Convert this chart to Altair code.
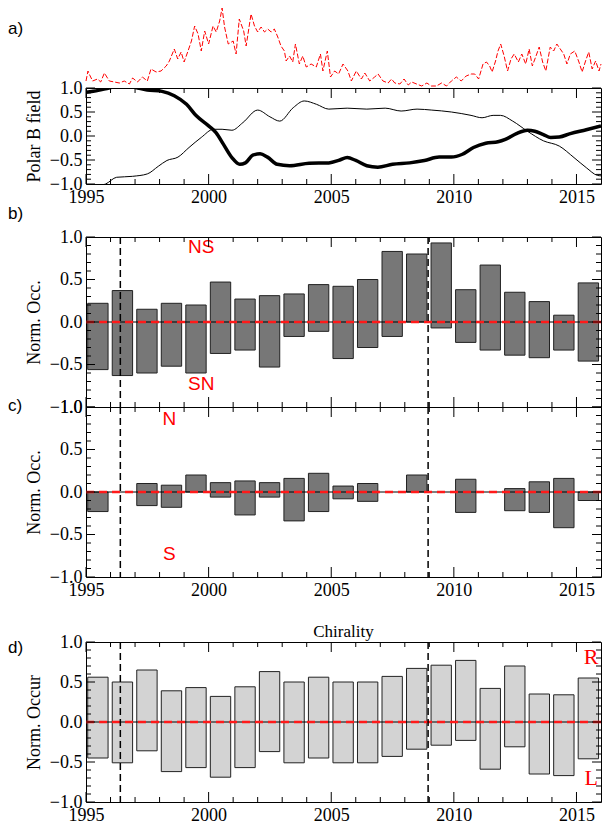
import altair as alt
import pandas as pd

# ---------------- data ----------------
ssn_year = [1995.00, 1995.08, 1995.15, 1995.27, 1995.47, 1995.60, 1995.75, 1995.95, 1996.16, 1996.36,
            1996.56, 1996.77, 1996.90, 1997.10, 1997.30, 1997.50, 1997.65, 1997.86, 1998.06, 1998.27,
            1998.40, 1998.60, 1998.74, 1998.88, 1999.00, 1999.16, 1999.30, 1999.43, 1999.57, 1999.70,
            1999.84, 2000.00, 2000.18, 2000.31, 2000.45, 2000.55, 2000.65, 2000.80, 2001.00, 2001.12,
            2001.25, 2001.43, 2001.53, 2001.73, 2001.87, 2002.00, 2002.14, 2002.28, 2002.41, 2002.55,
            2002.68, 2002.82, 2002.95, 2003.09, 2003.16, 2003.30, 2003.43, 2003.54, 2003.70, 2003.84,
            2003.98, 2004.18, 2004.39, 2004.56, 2004.66, 2004.84, 2004.97, 2005.14, 2005.30, 2005.48,
            2005.68, 2005.82, 2006.02, 2006.23, 2006.37, 2006.57, 2006.77, 2006.91, 2007.11, 2007.32,
            2007.46, 2007.59, 2007.80, 2007.97, 2008.14, 2008.28, 2008.48, 2008.69, 2008.90, 2009.08,
            2009.29, 2009.50, 2009.70, 2009.90, 2010.10, 2010.30, 2010.50, 2010.71, 2010.85, 2011.01,
            2011.19, 2011.33, 2011.46, 2011.56, 2011.70, 2011.80, 2011.91, 2012.05, 2012.19, 2012.33,
            2012.46, 2012.63, 2012.77, 2012.93, 2013.07, 2013.20, 2013.38, 2013.48, 2013.62, 2013.75,
            2013.93, 2014.07, 2014.20, 2014.34, 2014.48, 2014.61, 2014.75, 2014.93, 2015.10, 2015.23,
            2015.37, 2015.50, 2015.64, 2015.78, 2015.92, 2016.00]
ssn_val = [7, 17, 13, 7, 9, 6, 15, 7, 6, 5,
           7, 4, 10, 6, 11, 7, 19, 16, 17, 22,
           27, 39, 29, 36, 26, 37, 47, 62, 54, 37,
           57, 44, 62, 56, 67, 80, 61, 44, 47, 34,
           69, 57, 42, 74, 62, 56, 61, 56, 59, 56,
           59, 51, 42, 37, 27, 32, 26, 44, 24, 32,
           21, 24, 21, 34, 17, 37, 11, 17, 14, 24,
           17, 7, 17, 9, 15, 7, 11, 14, 7, 5,
           9, 5, 4, 9, 3, 6, 4, 2, 5, 2,
           2, 5, 2, 7, 11, 7, 12, 14, 14, 9,
           24, 26, 22, 16, 27, 37, 44, 32, 17, 29,
           34, 26, 34, 24, 39, 22, 34, 41, 26, 17,
           41, 37, 44, 39, 34, 24, 34, 37, 26, 16,
           27, 36, 19, 27, 17, 24]

thick_year = [1995.0, 1995.5, 1995.94, 1996.5, 1997.1, 1997.5, 1998.1, 1998.6, 1999.1, 1999.5,
              2000.0, 2000.3, 2000.6, 2000.95, 2001.27, 2001.5, 2001.8, 2002.1, 2002.4, 2002.8,
              2003.3, 2004.1, 2004.9, 2005.35, 2005.65, 2006.0, 2006.45, 2006.9, 2007.5, 2008.2,
              2008.8, 2009.4, 2009.9, 2010.35, 2010.8, 2011.3, 2011.8, 2012.1, 2012.55, 2013.0,
              2013.3, 2013.65, 2013.95, 2014.3, 2014.75, 2015.4, 2016.0]
thick_val = [0.91, 0.95, 1.0, 1.05, 1.0, 0.96, 0.93, 0.84, 0.66, 0.42,
             0.21, 0.07, -0.17, -0.45, -0.59, -0.56, -0.40, -0.37, -0.44, -0.59,
             -0.62, -0.57, -0.56, -0.50, -0.45, -0.51, -0.62, -0.65, -0.59, -0.56,
             -0.51, -0.44, -0.44, -0.38, -0.24, -0.15, -0.12, -0.07, 0.05, 0.12,
             0.10, 0.03, -0.03, -0.02, 0.05, 0.13, 0.21]

thin_year = [1995.0, 1995.8, 1996.25, 1996.9, 1997.5, 1997.95, 1998.3, 1998.75, 1999.2, 1999.7,
             2000.2, 2000.55, 2000.95, 2001.4, 2002.0, 2002.5, 2002.9, 2003.45, 2003.9, 2004.4,
             2004.9, 2005.65, 2006.45, 2007.2, 2007.85, 2008.5, 2009.1, 2009.9, 2010.7, 2011.15,
             2011.6, 2011.9, 2012.4, 2013.0, 2013.65, 2014.3, 2014.9, 2015.4, 2015.85, 2016.0]
thin_val = [-1.08, -1.0, -0.86, -0.84, -0.79, -0.63, -0.51, -0.44, -0.24, -0.03,
            0.14, 0.14, 0.12, 0.28, 0.54, 0.40, 0.31, 0.59, 0.73, 0.66,
            0.56, 0.58, 0.56, 0.58, 0.52, 0.56, 0.54, 0.50, 0.43, 0.38,
            0.43, 0.43, 0.31, 0.10, -0.10, -0.21, -0.45, -0.66, -0.82, -0.83]

bar_years = list(range(1995, 2016))
ns_top = [0.22, 0.37, 0.15, 0.22, 0.20, 0.47, 0.27, 0.31, 0.33, 0.44, 0.42,
          0.50, 0.83, 0.80, 0.93, 0.38, 0.67, 0.35, 0.24, 0.08, 0.46]
sn_bot = [-0.56, -0.63, -0.60, -0.52, -0.60, -0.37, -0.33, -0.53, -0.17, -0.11, -0.43,
          -0.30, -0.17, 0.0, -0.07, -0.24, -0.33, -0.39, -0.42, -0.33, -0.46]
n_top = [0.0, None, 0.10, 0.08, 0.20, 0.11, 0.13, 0.11, 0.16, 0.22, 0.07,
         0.10, None, 0.20, None, 0.15, None, 0.04, 0.12, 0.16, 0.0]
s_bot = [-0.23, None, -0.16, -0.18, 0.0, -0.06, -0.27, -0.06, -0.34, -0.23, -0.08,
         -0.11, None, 0.0, None, -0.24, None, -0.22, -0.24, -0.42, -0.10]
r_top = [0.56, 0.50, 0.65, 0.39, 0.43, 0.32, 0.44, 0.63, 0.50, 0.56, 0.50,
         0.50, 0.57, 0.67, 0.71, 0.77, 0.42, 0.70, 0.35, 0.34, 0.55]
l_bot = [-0.45, -0.51, -0.36, -0.62, -0.57, -0.69, -0.57, -0.37, -0.51, -0.45, -0.51,
         -0.51, -0.43, -0.34, -0.29, -0.23, -0.59, -0.31, -0.65, -0.67, -0.46]

cycle_lines = [1996.4, 2008.95]
x_major = [1995, 2000, 2005, 2010, 2015]
x_minor = [1996, 1997, 1998, 1999, 2001, 2002, 2003, 2004, 2006, 2007, 2008, 2009,
           2011, 2012, 2013, 2014]
y_major = [-1.0, -0.5, 0.0, 0.5, 1.0]
y_minor = [-0.9, -0.8, -0.7, -0.6, -0.4, -0.3, -0.2, -0.1, 0.1, 0.2, 0.3, 0.4,
           0.6, 0.7, 0.8, 0.9]

# ---------------- styling ----------------
W = 515
SERIF = "Liberation Serif"
SANS = "Liberation Sans"
xs = alt.Scale(domain=[1995, 2016], nice=False, zero=False)
ys = alt.Scale(domain=[-1, 1], nice=False, zero=False)
NOVIEW = alt.ViewBackground(stroke="transparent")


def x_axis(labels=True):
    return alt.Axis(values=x_major, format="d", ticks=False, domain=False, grid=False,
                    labels=labels, labelFont=SERIF, labelFontSize=18, labelColor="black",
                    labelPadding=4, labelFlush=False, labelOverlap=False, title=None)


def y_axis(title):
    return alt.Axis(values=y_major, format=".1f", ticks=False, domain=False, grid=False,
                    labelFont=SERIF, labelFontSize=18, labelColor="black", labelPadding=4,
                    labelFlush=False, labelOverlap=False, title=title, titleFont=SERIF,
                    titleFontSize=18, titleFontWeight="normal", titleColor="black",
                    titlePadding=6)


def frame_ticks(H, xa, ya):
    out = []
    for vals, L in [(x_major, 10), (x_minor, 5)]:
        df = pd.DataFrame({"t": vals})
        base = alt.Chart(df).mark_rule(color="black", strokeWidth=1)
        out.append(base.encode(x=alt.X("t:Q", scale=xs, axis=xa),
                               y=alt.value(H), y2=alt.value(H - L)))
        out.append(base.encode(x=alt.X("t:Q", scale=xs, axis=xa),
                               y=alt.value(0), y2=alt.value(L)))
    for vals, L in [(y_major, 9), (y_minor, 5)]:
        df = pd.DataFrame({"t": vals})
        base = alt.Chart(df).mark_rule(color="black", strokeWidth=1)
        out.append(base.encode(y=alt.Y("t:Q", scale=ys, axis=ya),
                               x=alt.value(0), x2=alt.value(L)))
        out.append(base.encode(y=alt.Y("t:Q", scale=ys, axis=ya),
                               x=alt.value(W), x2=alt.value(W - L)))
    return out


def panel_label(txt, ypix):
    return alt.Chart(pd.DataFrame({"t": [txt]})).mark_text(
        font=SANS, fontSize=17, align="left", baseline="middle", color="black"
    ).encode(text="t:N", x=alt.value(-78), y=alt.value(ypix))


def ref_lines(xa, ya):
    out = []
    zero = pd.DataFrame({"z": [0.0]})
    out.append(alt.Chart(zero).mark_rule(color="black", strokeWidth=1).encode(
        y=alt.Y("z:Q", scale=ys, axis=ya)))
    out.append(alt.Chart(zero).mark_rule(color="#ff1a1a", strokeWidth=2.5, strokeDash=[8, 5]).encode(
        y=alt.Y("z:Q", scale=ys, axis=ya)))
    out.append(alt.Chart(pd.DataFrame({"c": cycle_lines})).mark_rule(
        color="black", strokeWidth=1.5, strokeDash=[7, 4]).encode(
        x=alt.X("c:Q", scale=xs, axis=xa)))
    return out


def bar_layer(tops, bots, fill, xa, ya):
    df = pd.DataFrame({"year": bar_years, "hi": tops, "lo": bots}).dropna()
    df["x0"] = df["year"] + 0.07
    df["x1"] = df["year"] + 0.90
    return alt.Chart(df).mark_rect(fill=fill, stroke="#222222", strokeWidth=1).encode(
        x=alt.X("x0:Q", scale=xs, axis=xa),
        x2="x1:Q",
        y=alt.Y("lo:Q", scale=ys, axis=ya),
        y2="hi:Q",
    )


def red_text(labels, xv, yv, font, size, xa, ya):
    df = pd.DataFrame({"t": labels, "x": xv, "y": yv})
    return alt.Chart(df).mark_text(font=font, fontSize=size, color="#ff0000",
                                   align="center", baseline="middle").encode(
        x=alt.X("x:Q", scale=xs, axis=xa), y=alt.Y("y:Q", scale=ys, axis=ya), text="t:N")


# ---------------- panel a (sunspot trace) ----------------
ssn_df = pd.DataFrame({"year": ssn_year, "ssn": ssn_val})
spot = alt.layer(
    alt.Chart(ssn_df).mark_line(color="#ff0000", strokeWidth=1, strokeDash=[5, 2]).encode(
        x=alt.X("year:Q", scale=xs, axis=None),
        y=alt.Y("ssn:Q", scale=alt.Scale(domain=[0, 82], nice=False, zero=True), axis=None),
    ),
    panel_label("a)", 23),
).properties(width=W, height=82, view=NOVIEW)

# ---------------- polar field ----------------
xa_p = x_axis(True)
ya_p = y_axis("Polar B field")
thick_df = pd.DataFrame({"year": thick_year, "b": thick_val})
thin_df = pd.DataFrame({"year": thin_year, "b": thin_val})
polar = alt.layer(
    alt.Chart(thick_df).mark_line(color="black", strokeWidth=3.5, clip=True,
                                  interpolate="monotone").encode(
        x=alt.X("year:Q", scale=xs, axis=xa_p),
        y=alt.Y("b:Q", scale=ys, axis=ya_p),
    ),
    alt.Chart(thin_df).mark_line(color="black", strokeWidth=1, clip=True,
                                 interpolate="monotone").encode(
        x=alt.X("year:Q", scale=xs, axis=xa_p),
        y=alt.Y("b:Q", scale=ys, axis=ya_p),
    ),
    *frame_ticks(96, xa_p, ya_p),
).properties(width=W, height=96)

# ---------------- panel b ----------------
xa_b = x_axis(False)
ya_b = y_axis("Norm. Occ.")
pb = alt.layer(
    bar_layer(ns_top, sn_bot, "#777777", xa_b, ya_b),
    *ref_lines(xa_b, ya_b),
    red_text(["NS", "SN"], [1999.7, 1999.7], [0.88, -0.73], SANS, 19, xa_b, ya_b),
    *frame_ticks(170, xa_b, ya_b),
    panel_label("b)", -23),
).properties(width=W, height=170)

# ---------------- panel c ----------------
xa_c = x_axis(True)
ya_c = y_axis("Norm. Occ.")
pc = alt.layer(
    bar_layer(n_top, s_bot, "#777777", xa_c, ya_c),
    *ref_lines(xa_c, ya_c),
    red_text(["N", "S"], [1998.4, 1998.4], [0.86, -0.73], SANS, 19, xa_c, ya_c),
    *frame_ticks(170, xa_c, ya_c),
    panel_label("c)", -1),
).properties(width=W, height=170)

# ---------------- panel d ----------------
xa_d = x_axis(True)
ya_d = y_axis("Norm. Occur")
pd_ = alt.layer(
    bar_layer(r_top, l_bot, "#d3d3d3", xa_d, ya_d),
    *ref_lines(xa_d, ya_d),
    red_text(["R", "L"], [2015.6, 2015.6], [0.81, -0.70], SERIF, 22, xa_d, ya_d),
    *frame_ticks(160, xa_d, ya_d),
    panel_label("d)", 6),
).properties(width=W, height=160,
             title=alt.Title("Chirality", font=SERIF, fontSize=17, fontWeight="normal",
                             color="black", offset=-8, anchor="middle"))


def spacer(h):
    return alt.Chart(pd.DataFrame({"s": [0]})).mark_point(opacity=0).properties(
        width=W, height=h, view=NOVIEW)


chart = alt.vconcat(
    spot, polar, spacer(53), pb, pc, spacer(65), pd_,
    spacing=0, bounds="flush",
).properties(
    padding={"left": 7, "top": 5, "right": 0, "bottom": 0}
).configure_view(stroke="black", strokeWidth=1)

chart.save("out.html", embed_options={"renderer": "svg", "actions": False})
